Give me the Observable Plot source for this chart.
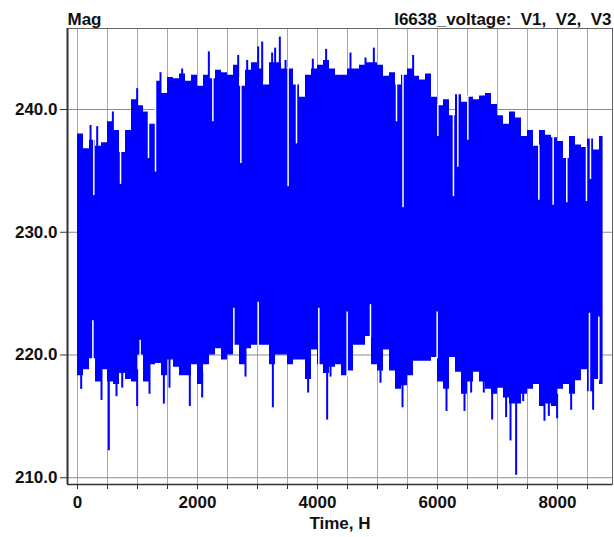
<!DOCTYPE html>
<html>
<head>
<meta charset="utf-8">
<script src="https://cdn.jsdelivr.net/npm/d3@7"></script>
<script src="https://cdn.jsdelivr.net/npm/@observablehq/plot@0.6"></script>
<style>
  html, body { margin: 0; padding: 0; background: #fff; }
</style>
</head>
<body>
<div id="chart"></div>
<script>
// Bin start hours (100-hour bins)
const binStart = [0,100,200,300,400,500,600,700,800,900,1000,1100,1200,1300,1400,1500,1600,1700,1800,1900,
  2000,2100,2200,2300,2400,2500,2600,2700,2800,2900,3000,3100,3200,3300,3400,3500,3600,3700,3800,3900,
  4000,4100,4200,4300,4400,4500,4600,4700,4800,4900,5000,5100,5200,5300,5400,5500,5600,5700,5800,5900,
  6000,6100,6200,6300,6400,6500,6600,6700,6800,6900,7000,7100,7200,7300,7400,7500,7600,7700,7800,7900,
  8000,8100,8200,8300,8400,8500,8600,8700];
const lastHour = 8760;

// Typical upper edge of V1,V2,V3 per bin (V)
const upper = [238.0,236.8,237.5,237.0,237.3,239.0,238.3,236.5,238.3,240.8,
  240.3,239.8,238.8,242.3,241.3,242.6,242.5,242.9,242.3,242.8,
  241.9,242.8,242.5,243.2,243.0,242.8,243.6,241.9,243.2,243.8,
  243.3,242.0,243.8,243.8,243.3,243.3,242.0,241.0,242.8,243.3,
  243.6,244.0,243.3,242.8,242.8,243.3,243.3,243.6,243.8,243.8,
  243.6,242.7,243.0,242.0,242.8,243.3,242.7,242.4,242.9,241.0,
  240.3,240.8,239.5,241.2,240.6,241.0,240.8,241.1,241.3,240.4,
  239.5,238.8,239.8,239.3,237.8,238.3,237.0,238.3,237.9,237.7,
  237.4,236.0,237.8,237.1,236.9,237.6,236.7,237.8];

// Typical lower edge per bin (V)
const lower = [218.3,218.8,219.7,217.8,218.8,217.8,217.6,218.5,218.0,217.8,
  220.0,217.8,219.2,219.3,218.3,219.6,219.0,218.3,218.3,219.2,
  217.6,219.2,220.0,220.5,219.6,220.0,220.8,219.2,220.5,220.8,
  220.8,220.8,219.2,220.0,220.0,219.2,219.6,219.6,218.0,220.4,
  219.2,218.5,219.0,219.2,218.3,218.7,220.8,220.8,221.5,219.2,
  218.7,220.4,218.7,217.2,217.5,218.3,219.5,219.5,219.5,219.8,
  217.8,217.2,219.8,218.6,216.8,217.8,218.6,217.8,217.2,216.8,
  217.3,216.5,216.0,216.0,216.8,217.2,217.6,215.8,216.0,215.8,
  217.2,217.6,216.8,217.9,218.8,217.0,218.0,217.6];

// Narrow peaks above the upper edge (hour, V)
const peakHour  = [217,328,589,994,1383,1744,2189,2678,2828,3011,3078,3244,3294,3372,3467,3922,4144,4550,4800,4939,5594];
const peakValue = [238.7,238.6,239.8,241.7,243.0,243.3,244.7,244.4,244.0,245.1,245.5,244.6,245.0,245.9,244.0,244.1,244.9,244.6,244.2,245.0,244.4];

// Narrow dips from the upper edge into the band (hour, V)
const dipHour  = [272,717,1183,1300,2256,2722,3510,3650,5317,5425,6006,6266,6339,6506,7689,7928,8155,8483,8550];
const dipValue = [233.0,233.9,236.0,234.9,239.0,235.6,233.7,237.2,239.0,232.0,237.8,232.9,235.3,237.5,232.6,232.2,232.4,232.5,234.3];

// Narrow drops below the lower edge (hour, V)
const dropHour  = [61,400,522,650,745,994,1200,1439,1533,1872,2078,2800,3256,3844,4161,4217,5050,5417,6150,6450,6561,6772,6911,7144,7217,7311,7428,7783,7856,7994,8228,8594];
const dropValue = [217.2,216.3,212.2,216.6,217.3,215.8,216.8,216.0,217.3,215.8,216.5,218.2,215.7,216.9,214.7,218.2,217.7,215.7,215.4,215.4,216.9,216.9,214.7,214.9,213.0,210.2,216.2,214.6,215.0,214.8,215.5,215.5];

// Narrow rises from the lower edge into the band (hour, V)
const riseHour  = [256,1044,2606,3011,4022,4494,4883,5994,8533,8689];
const riseValue = [222.8,221.2,223.8,224.3,223.8,223.5,224.1,223.5,223.4,223.1];

// Axis ticks and texts
const xTickHours = [0,500,1000,1500,2000,2500,3000,3500,4000,4500,5000,5500,6000,6500,7000,7500,8000,8500];
const xLabelHours = [0,2000,4000,6000,8000];
const yTicks = [210,220,230,240];
const titleLeft = "Mag";
const titleRight = "I6638_voltage:  V1,  V2,  V3";
const xLabel = "Time, H";

const xDomain = [-167, 8917];
const yDomain = [209.45, 246.6];

const band = binStart.map((h, i) => ({h, lo: lower[i], hi: upper[i]}));
band.push({h: lastHour, lo: lower[lower.length - 1], hi: upper[upper.length - 1]});
const binOf = h => Math.min(Math.floor(h / 100), upper.length - 1);
const peaks = peakHour.map((h, i) => ({h, v: peakValue[i], base: upper[binOf(h)] - 1}));
const dips = dipHour.map((h, i) => ({h, v: dipValue[i], top: upper[binOf(h)] + 0.1}));
const drops = dropHour.map((h, i) => ({h, v: dropValue[i], base: lower[binOf(h)] + 1}));
const rises = riseHour.map((h, i) => ({h, v: riseValue[i], bottom: lower[binOf(h)] - 0.1}));

const chart = Plot.plot({
  width: 614,
  height: 537,
  marginLeft: 67,
  marginRight: 2,
  marginTop: 28,
  marginBottom: 53,
  style: {fontFamily: "'Liberation Sans', Arial, sans-serif", fontSize: "17px", fontWeight: "bold", background: "#fff", color: "#111"},
  x: {domain: xDomain},
  y: {domain: yDomain},
  marks: [
    Plot.ruleX(xTickHours, {stroke: "#a6a6a6", strokeWidth: 1}),
    Plot.ruleY(yTicks, {stroke: "#8c8c8c", strokeWidth: 1}),
    Plot.areaY(band, {x: "h", y1: "lo", y2: "hi", curve: "step-after", fill: "#0000ff"}),
    Plot.ruleX(dips, {x: "h", y1: "top", y2: "v", stroke: "#ffffff", strokeWidth: 1.5}),
    Plot.ruleX(rises, {x: "h", y1: "bottom", y2: "v", stroke: "#ffffff", strokeWidth: 1.5}),
    Plot.ruleX(peaks, {x: "h", y1: "base", y2: "v", stroke: "#0000ff", strokeWidth: 2}),
    Plot.ruleX(drops, {x: "h", y1: "base", y2: "v", stroke: "#0000ff", strokeWidth: 2}),
    Plot.frame({stroke: "#666", strokeWidth: 1}),
    Plot.ruleX([xDomain[0]], {stroke: "#333", strokeWidth: 2}),
    Plot.ruleY([yDomain[0]], {stroke: "#333", strokeWidth: 1.5}),
    Plot.axisX(xTickHours, {tickSize: 5, tickPadding: 6, stroke: "#333",
      tickFormat: d => xLabelHours.includes(d) ? String(d) : "", label: null, fontSize: 17, fontWeight: "bold"}),
    Plot.axisY(yTicks, {tickSize: 7, tickPadding: 3, stroke: "#333",
      tickFormat: d => d.toFixed(1), label: null, fontSize: 17, fontWeight: "bold"}),
    Plot.text([titleLeft], {frameAnchor: "top-left", textAnchor: "start", lineAnchor: "bottom", dy: -4, fontSize: 17, fontWeight: "bold"}),
    Plot.text([titleRight], {frameAnchor: "top-right", textAnchor: "end", lineAnchor: "bottom", dy: -4, dx: -1, fontSize: 17, fontWeight: "bold"}),
    Plot.text([xLabel], {frameAnchor: "bottom", textAnchor: "middle", lineAnchor: "bottom", dy: 44, fontSize: 17, fontWeight: "bold"})
  ]
});
document.getElementById("chart").appendChild(chart);
</script>
</body>
</html>
